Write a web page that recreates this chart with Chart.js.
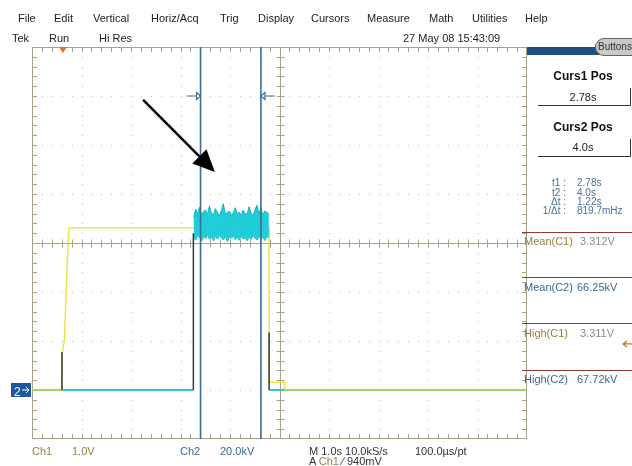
<!DOCTYPE html>
<html>
<head>
<meta charset="utf-8">
<script src="https://cdn.jsdelivr.net/npm/chart.js@4.4.1/dist/chart.umd.min.js"></script>
<style>
body { margin:0; background:#fff; }
#scope { position:relative; width:632px; height:466px; overflow:hidden; background:#fff;
  font-family:"Liberation Sans", Arial, sans-serif; }
#scope canvas { position:absolute; left:0; top:0; }
.t { position:absolute; white-space:nowrap; font-size:11px; line-height:12px; color:#222; }
.b { font-weight:bold; font-size:12px; color:#111; }
.c { text-align:center; width:100px; }
.r { text-align:right; width:40px; }
.sm { font-size:10px; line-height:10px; color:#4b6f9e; }
.c1 { color:#9a7b3c; }
.c1v { color:#8c8c80; }
.c2 { color:#39689a; }
</style>
</head>
<body>
<div id="scope">
<canvas id="scopeChart" width="632" height="466"></canvas>

<div class="t" style="left:18px;top:12px">File</div>
<div class="t" style="left:54px;top:12px">Edit</div>
<div class="t" style="left:93px;top:12px">Vertical</div>
<div class="t" style="left:151px;top:12px">Horiz/Acq</div>
<div class="t" style="left:220px;top:12px">Trig</div>
<div class="t" style="left:258px;top:12px">Display</div>
<div class="t" style="left:311px;top:12px">Cursors</div>
<div class="t" style="left:367px;top:12px">Measure</div>
<div class="t" style="left:429px;top:12px">Math</div>
<div class="t" style="left:472px;top:12px">Utilities</div>
<div class="t" style="left:525px;top:12px">Help</div>

<div class="t" style="left:12px;top:32px">Tek</div>
<div class="t" style="left:49px;top:32px">Run</div>
<div class="t" style="left:99px;top:32px">Hi Res</div>
<div class="t" style="left:403px;top:32px">27 May 08 15:43:09</div>
<div class="t" style="left:598px;top:41px;font-size:10px;color:#333">Buttons</div>

<div class="t b c" style="left:533px;top:70px">Curs1 Pos</div>
<div class="t c" style="left:533px;top:91px">2.78s</div>
<div class="t b c" style="left:533px;top:121px">Curs2 Pos</div>
<div class="t c" style="left:533px;top:141px">4.0s</div>

<div class="t sm r" style="left:526px;top:178px">t1 :</div>
<div class="t sm" style="left:577px;top:178px">2.78s</div>
<div class="t sm r" style="left:526px;top:188px">t2 :</div>
<div class="t sm" style="left:577px;top:188px">4.0s</div>
<div class="t sm r" style="left:526px;top:197px">&Delta;t :</div>
<div class="t sm" style="left:577px;top:197px">1.22s</div>
<div class="t sm r" style="left:526px;top:206px">1/&Delta;t :</div>
<div class="t sm" style="left:577px;top:206px">819.7mHz</div>

<div class="t c1" style="left:524px;top:235px">Mean(C1)</div>
<div class="t c1v" style="left:580px;top:235px">3.312V</div>
<div class="t c2" style="left:524px;top:281px">Mean(C2)</div>
<div class="t c2" style="left:577px;top:281px">66.25kV</div>
<div class="t c1" style="left:524px;top:327px">High(C1)</div>
<div class="t c1v" style="left:580px;top:327px">3.311V</div>
<div class="t c2" style="left:524px;top:373px">High(C2)</div>
<div class="t c2" style="left:577px;top:373px">67.72kV</div>

<div class="t" style="left:14px;top:386px;color:#fff;font-size:12px">2</div>

<div class="t c1" style="left:32px;top:445px">Ch1</div>
<div class="t c1" style="left:72px;top:445px">1.0V</div>
<div class="t c2" style="left:180px;top:445px">Ch2</div>
<div class="t c2" style="left:220px;top:445px">20.0kV</div>
<div class="t" style="left:309px;top:445px;color:#333">M 1.0s 10.0kS/s</div>
<div class="t" style="left:415px;top:445px;color:#333">100.0&micro;s/pt</div>
<div class="t" style="left:309px;top:455px;color:#333">A <span class="c1">Ch1</span> &#x2044; 940mV</div>
</div>

<script>
// horizontal: seconds from trigger, 1 s/div
var timeRange = [-0.625, 9.375];
// Ch1 volts (1.0 V/div), Ch2 kV (20.0 kV/div), both grounded 3 div below centre
var ch1Range = [-1, 7];
var ch2Range = [-20, 140];

var ch1Times = [-0.625, -0.03, -0.02, 0.03, 0.06, 0.09, 0.12, 0.2, 4.16, 4.17, 4.47, 4.48, 9.375];
var ch1Volts = [0, 0, 0.72, 1.02, 1.85, 2.65, 3.3, 3.31, 3.31, 0.16, 0.16, 0, 0];

var ch2BaseTimes = [-0.625, 2.635, 3.4, 4.165, 9.375];
var ch2BaseKV = [0, 0, null, 0, 0];

var noiseTimes = [2.64, 2.68, 2.72, 2.76, 2.80, 2.84, 2.88, 2.92, 2.96, 3.00,
  3.04, 3.08, 3.12, 3.16, 3.20, 3.24, 3.28, 3.32, 3.36, 3.40,
  3.44, 3.48, 3.52, 3.56, 3.60, 3.64, 3.68, 3.72, 3.76, 3.80,
  3.84, 3.88, 3.92, 3.96, 4.00, 4.04, 4.08, 4.12, 4.16];
var noiseUpper = [70.5, 73.8, 72.0, 74.6, 71.2, 72.8, 73.5, 71.4, 75.2, 72.1,
  71.6, 74.0, 72.5, 71.0, 73.2, 76.0, 71.8, 72.4, 73.0, 71.5,
  72.2, 74.4, 71.9, 72.6, 71.3, 73.4, 72.0, 71.7, 74.8, 72.3,
  71.1, 73.6, 75.4, 72.0, 74.2, 71.4, 73.1, 72.5, 71.8];
var noiseLower = [62.0, 61.2, 63.0, 62.2, 60.8, 62.6, 61.8, 63.2, 61.5, 62.4,
  60.9, 62.8, 61.6, 63.1, 62.0, 61.3, 62.7, 60.6, 62.3, 61.9,
  63.0, 61.4, 62.5, 61.1, 62.9, 61.7, 62.2, 60.9, 62.6, 61.5,
  63.1, 62.0, 61.2, 62.8, 61.6, 62.4, 61.0, 62.7, 62.1];

// dark fast edges of Ch2
var edgeTimes = [-0.02, -0.02, 1.0, 2.635, 2.635, 3.4, 4.165, 4.165];
var edgeKV = [0, 15.5, null, 0, 64, null, 0, 23.5];

var cursorTimes = [2.78, 4.0];
var triggerTime = 0;
var triggerLevel = 0.94;
// hand-drawn arrow, in (s, Ch1 volts)
var arrowFrom = [1.62, 5.92];
var arrowTo = [3.07, 4.45];

function pts(xs, ys) {
  return xs.map(function (x, i) { return { x: x, y: ys[i] }; });
}

var texture = [];
noiseTimes.forEach(function (t, i) {
  texture.push({ x: t, y: noiseUpper[i] });
  texture.push({ x: t + 0.02, y: noiseLower[i] });
});

var graticule = {
  id: 'graticule',
  beforeDatasetsDraw: function (chart) {
    var ctx = chart.ctx, a = chart.chartArea;
    var dx = (a.right - a.left) / 10, dy = (a.bottom - a.top) / 8;
    var i, k, x, y;
    ctx.save();
    ctx.fillStyle = '#bdbdbd';
    for (i = 1; i < 10; i++) {
      if (i == 5) continue;
      x = Math.round(a.left + i * dx);
      for (k = 1; k < 40; k++) ctx.fillRect(x, Math.round(a.top + k * dy / 5), 1, 1);
    }
    for (i = 1; i < 8; i++) {
      if (i == 4) continue;
      y = Math.round(a.top + i * dy);
      for (k = 1; k < 50; k++) ctx.fillRect(Math.round(a.left + k * dx / 5), y, 1, 1);
    }
    ctx.strokeStyle = '#a9a08d';
    ctx.lineWidth = 1;
    ctx.strokeRect(a.left + 0.5, a.top + 0.5, a.right - a.left - 1, a.bottom - a.top - 1);
    var cx = Math.round(a.left + 5 * dx) + 0.5, cy = Math.round(a.top + 4 * dy) + 0.5;
    ctx.beginPath();
    ctx.moveTo(a.left, cy); ctx.lineTo(a.right, cy);
    ctx.moveTo(cx, a.top); ctx.lineTo(cx, a.bottom);
    for (k = 1; k < 50; k++) {
      x = Math.round(a.left + k * dx / 5) + 0.5;
      ctx.moveTo(x, cy - 4); ctx.lineTo(x, cy + 4);
      ctx.moveTo(x, a.top); ctx.lineTo(x, a.top + 5);
      ctx.moveTo(x, a.bottom); ctx.lineTo(x, a.bottom - 5);
    }
    for (k = 1; k < 40; k++) {
      y = Math.round(a.top + k * dy / 5) + 0.5;
      ctx.moveTo(cx - 4, y); ctx.lineTo(cx + 4, y);
      ctx.moveTo(a.left, y); ctx.lineTo(a.left + 5, y);
      ctx.moveTo(a.right, y); ctx.lineTo(a.right - 5, y);
    }
    ctx.stroke();
    ctx.restore();
  }
};

var overlay = {
  id: 'overlay',
  afterDatasetsDraw: function (chart) {
    var ctx = chart.ctx, a = chart.chartArea;
    var sx = chart.scales.x, s1 = chart.scales.y, s2 = chart.scales.y2;
    ctx.save();

    // cursors
    ctx.strokeStyle = '#3d6f93';
    ctx.lineWidth = 1.6;
    cursorTimes.forEach(function (t) {
      var x = sx.getPixelForValue(t);
      ctx.beginPath(); ctx.moveTo(x, a.top); ctx.lineTo(x, a.bottom); ctx.stroke();
    });
    var my = s1.getPixelForValue(6);
    var c1 = sx.getPixelForValue(cursorTimes[0]), c2 = sx.getPixelForValue(cursorTimes[1]);
    ctx.lineWidth = 1.2;
    ctx.beginPath();
    ctx.moveTo(c1 - 14, my); ctx.lineTo(c1 - 4, my);
    ctx.moveTo(c2 + 4, my); ctx.lineTo(c2 + 14, my);
    ctx.moveTo(c1 - 4, my - 3.5); ctx.lineTo(c1, my); ctx.lineTo(c1 - 4, my + 3.5); ctx.closePath();
    ctx.moveTo(c2 + 4, my - 3.5); ctx.lineTo(c2, my); ctx.lineTo(c2 + 4, my + 3.5); ctx.closePath();
    ctx.stroke();

    // trigger position marker
    var tx = sx.getPixelForValue(triggerTime);
    ctx.fillStyle = '#ee6a2a';
    ctx.beginPath();
    ctx.moveTo(tx - 4, a.top); ctx.lineTo(tx + 4, a.top); ctx.lineTo(tx, a.top + 6); ctx.closePath();
    ctx.fill();

    // trigger level arrow on the right
    var ly = s1.getPixelForValue(triggerLevel);
    ctx.strokeStyle = '#b4773a';
    ctx.lineWidth = 1.2;
    ctx.beginPath();
    ctx.moveTo(632, ly); ctx.lineTo(623, ly);
    ctx.moveTo(627, ly - 3); ctx.lineTo(623, ly); ctx.lineTo(627, ly + 3);
    ctx.stroke();

    // Ch2 ground marker
    var gy = s2.getPixelForValue(0);
    ctx.fillStyle = '#1c57a0';
    ctx.fillRect(a.left - 21, Math.round(gy) - 7, 20, 14);
    ctx.strokeStyle = '#fff';
    ctx.lineWidth = 1;
    ctx.beginPath();
    ctx.moveTo(a.left - 10, gy); ctx.lineTo(a.left - 3, gy);
    ctx.moveTo(a.left - 6, gy - 3); ctx.lineTo(a.left - 3, gy); ctx.lineTo(a.left - 6, gy + 3);
    ctx.stroke();

    // annotation arrow
    var x0 = sx.getPixelForValue(arrowFrom[0]), y0 = s1.getPixelForValue(arrowFrom[1]);
    var x1 = sx.getPixelForValue(arrowTo[0]), y1 = s1.getPixelForValue(arrowTo[1]);
    var ang = Math.atan2(y1 - y0, x1 - x0);
    var hl = 22, hw = 10;
    var bx = x1 - hl * Math.cos(ang), by = y1 - hl * Math.sin(ang);
    ctx.strokeStyle = '#000';
    ctx.fillStyle = '#000';
    ctx.lineWidth = 2.5;
    ctx.beginPath(); ctx.moveTo(x0, y0); ctx.lineTo(bx, by); ctx.stroke();
    ctx.beginPath();
    ctx.moveTo(x1, y1);
    ctx.lineTo(bx + hw * Math.sin(ang), by - hw * Math.cos(ang));
    ctx.lineTo(bx - hw * Math.sin(ang), by + hw * Math.cos(ang));
    ctx.closePath(); ctx.fill();
    ctx.restore();
  },
  afterDraw: function (chart) {
    var ctx = chart.ctx, a = chart.chartArea;
    ctx.save();
    // side panel header + Buttons pill
    ctx.fillStyle = '#1f4f7f';
    ctx.fillRect(a.right, 47, 600 - a.right, 8);
    ctx.fillStyle = '#c9c9c9';
    ctx.strokeStyle = '#666';
    ctx.lineWidth = 1;
    ctx.beginPath();
    ctx.moveTo(604, 38.5); ctx.lineTo(640, 38.5); ctx.lineTo(640, 55.5); ctx.lineTo(604, 55.5);
    ctx.arc(604, 47, 8.5, Math.PI / 2, Math.PI * 1.5);
    ctx.closePath(); ctx.fill(); ctx.stroke();

    // cursor readout boxes
    ctx.strokeStyle = '#333';
    ctx.beginPath();
    ctx.moveTo(538, 105.5); ctx.lineTo(630.5, 105.5); ctx.lineTo(630.5, 88);
    ctx.moveTo(538, 156.5); ctx.lineTo(630.5, 156.5); ctx.lineTo(630.5, 139);
    ctx.stroke();

    // measurement separators
    ctx.strokeStyle = '#8c3b2c';
    ctx.beginPath();
    [232, 277, 323, 370].forEach(function (y) {
      ctx.moveTo(a.right - 5, y + 0.5); ctx.lineTo(632, y + 0.5);
    });
    ctx.stroke();
    ctx.restore();
  }
};

var ctx = document.getElementById('scopeChart').getContext('2d');
var scopeChart = new Chart(ctx, {
  type: 'scatter',
  data: {
    datasets: [{
      data: pts(edgeTimes, edgeKV),
      yAxisID: 'y2',
      borderColor: '#2e3b3a',
      borderWidth: 1.5
    }, {
      data: texture,
      yAxisID: 'y2',
      borderColor: 'rgba(10,160,175,0.18)',
      borderWidth: 0.8
    }, {
      data: pts(noiseTimes, noiseUpper),
      yAxisID: 'y2',
      borderColor: '#1bb5c2',
      backgroundColor: '#25d4de',
      borderWidth: 1,
      fill: '+1'
    }, {
      data: pts(noiseTimes, noiseLower),
      yAxisID: 'y2',
      borderColor: '#1bb5c2',
      borderWidth: 1
    }, {
      data: pts(ch1Times, ch1Volts),
      yAxisID: 'y',
      borderColor: 'rgba(228,222,30,0.8)',
      borderWidth: 1.5
    }, {
      data: pts(ch2BaseTimes, ch2BaseKV),
      yAxisID: 'y2',
      borderColor: '#2cc8d8',
      borderWidth: 2
    }]
  },
  options: {
    responsive: false,
    animation: false,
    devicePixelRatio: 1,
    layout: { padding: { left: 32, top: 47, right: 105, bottom: 27 } },
    showLine: true,
    elements: { point: { radius: 0 }, line: { tension: 0 } },
    scales: {
      x: { type: 'linear', min: timeRange[0], max: timeRange[1], display: false },
      y: { min: ch1Range[0], max: ch1Range[1], display: false },
      y2: { min: ch2Range[0], max: ch2Range[1], display: false }
    },
    plugins: { legend: { display: false }, tooltip: { enabled: false } }
  },
  plugins: [graticule, overlay]
});
</script>
</body>
</html>
